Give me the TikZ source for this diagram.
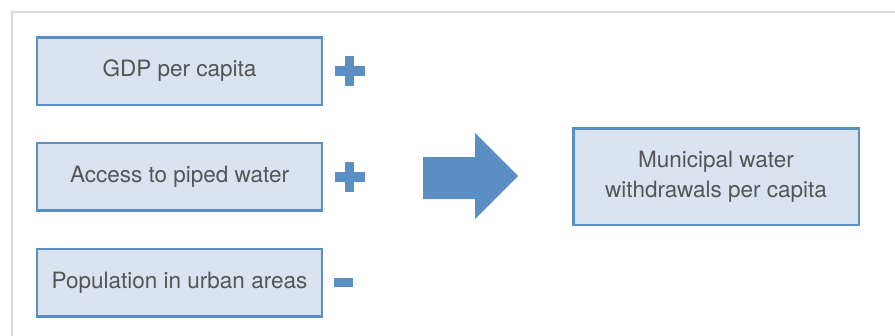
\documentclass[tikz,border=0pt]{standalone}
\usepackage{fontspec}
\setmainfont{TeX Gyre Heros}
\definecolor{boxfill}{HTML}{DAE3EF}
\definecolor{boxline}{HTML}{5B8EC2}
\definecolor{labelgray}{HTML}{555555}
\definecolor{framegray}{HTML}{D9D9D9}
\begin{document}
\begin{tikzpicture}[
    x=1pt, y=-1pt,
    factor/.style={
        rectangle,
        draw=boxline,
        fill=boxfill,
        line width=2.5pt,
        minimum width=285pt,
        minimum height=67.5pt,
        inner sep=0pt,
        text=labelgray,
        font=\fontsize{22.5}{30}\selectfont,
        align=center
    },
    result/.style={
        factor,
        minimum width=285.5pt,
        minimum height=96.5pt
    },
    sign/.style={
        fill=boxline
    }
]
\useasboundingbox (0,0) rectangle (895,335);

% frame
\draw[framegray, line width=2pt] (12,336) -- (12,12) -- (896,12);

% factors
\node[factor] (GDP) at (179.5,71) {GDP per capita};
\node[factor] (PIPE) at (179.5,176.5) {Access to piped water};
\node[factor] (URBAN) at (179.5,282.5) {Population in urban areas};

% outcome
\node[result] (MWW) at (716,176.5) {Municipal water\\withdrawals per capita};

% signs
\coordinate (S1) at (349.5,71);
\coordinate (S2) at (349.5,176.5);
\coordinate (S3) at (343.5,282.5);
\fill[sign] ([xshift=-15pt,yshift=-5pt]S1) rectangle ([xshift=15pt,yshift=5pt]S1);
\fill[sign] ([xshift=-4.5pt,yshift=-15pt]S1) rectangle ([xshift=4.5pt,yshift=15pt]S1);
\fill[sign] ([xshift=-15pt,yshift=-5pt]S2) rectangle ([xshift=15pt,yshift=5pt]S2);
\fill[sign] ([xshift=-4.5pt,yshift=-15pt]S2) rectangle ([xshift=4.5pt,yshift=15pt]S2);
\fill[sign] ([xshift=-9.5pt,yshift=-4.5pt]S3) rectangle ([xshift=9.5pt,yshift=4.5pt]S3);

% block arrow
\fill[sign] (423,157) -- (475,157) -- (475,133) -- (518,176) -- (475,219)
    -- (475,199) -- (423,199) -- cycle;

\end{tikzpicture}
\end{document}
